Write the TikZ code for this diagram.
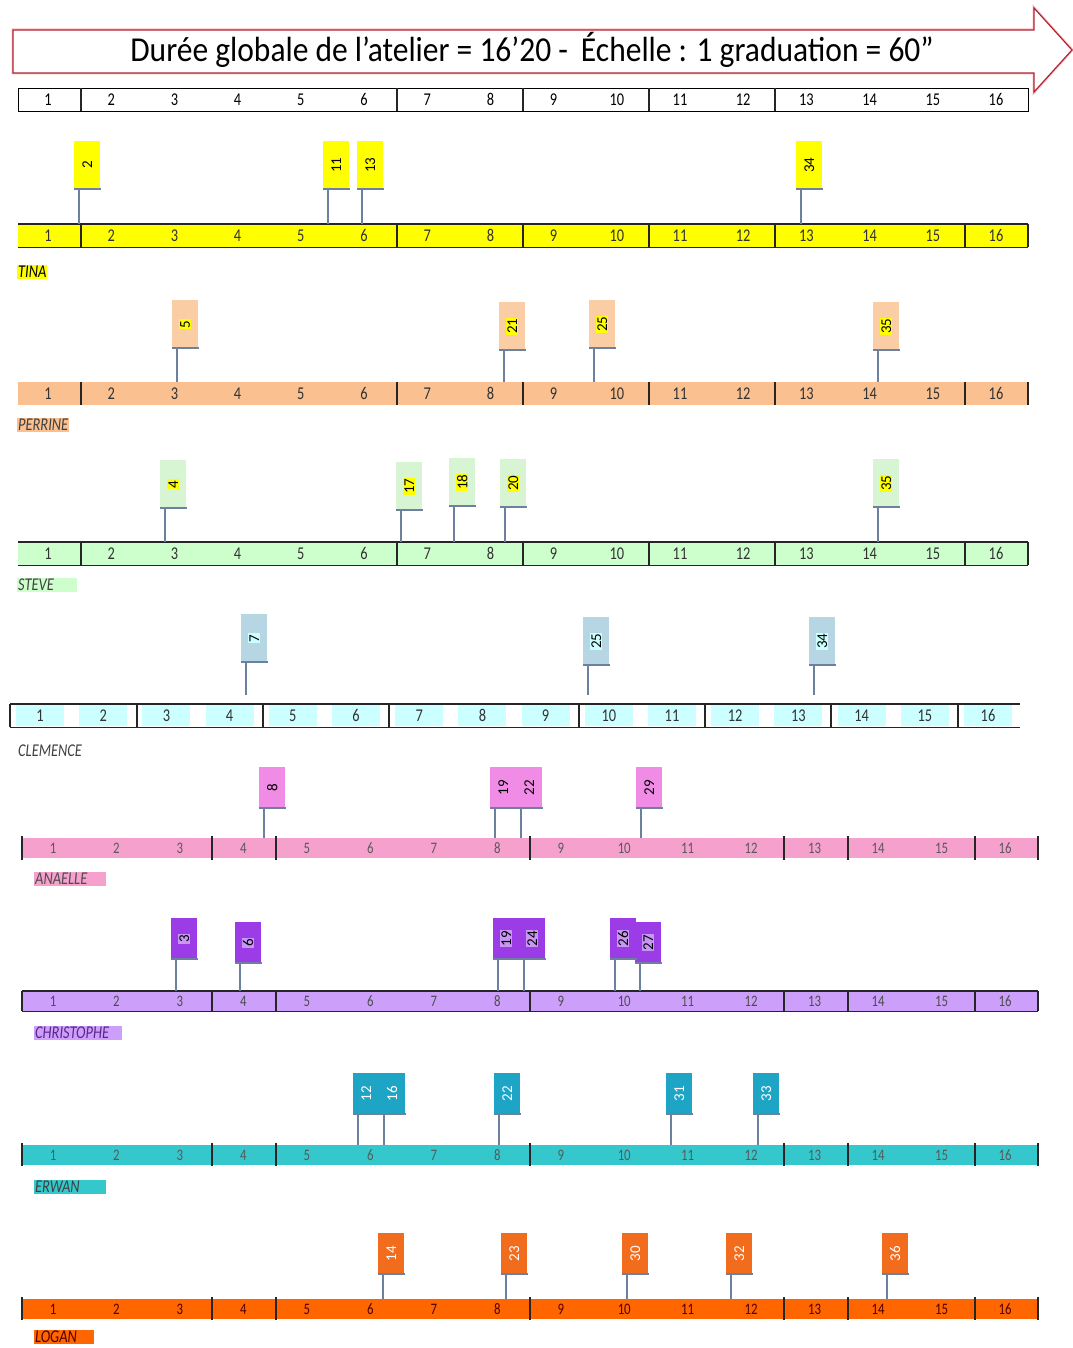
\documentclass[tikz,border=0pt]{standalone}
\usepackage{fontspec}
\usepackage{graphicx}
\setmainfont{Carlito}
\newfontfamily\narrowfont[FakeStretch=0.8, Ligatures=TeX]{Carlito}
\newfontfamily\titlefont[FakeStretch=0.9, Ligatures=TeX]{Carlito}
\usetikzlibrary{positioning}

\definecolor{tinaY}{RGB}{255,255,0}
\definecolor{perrineBar}{RGB}{250,192,144}
\definecolor{perrineFlag}{RGB}{250,205,165}
\definecolor{steveBar}{RGB}{204,255,204}
\definecolor{steveFlag}{RGB}{215,245,210}
\definecolor{clemCell}{RGB}{204,255,255}
\definecolor{clemFlag}{RGB}{183,214,228}
\definecolor{anaBar}{RGB}{245,160,205}
\definecolor{anaFlag}{RGB}{240,140,230}
\definecolor{chrBar}{RGB}{204,160,250}
\definecolor{chrFlag}{RGB}{155,60,230}
\definecolor{chrHl}{RGB}{200,150,245}
\definecolor{erwBar}{RGB}{52,200,204}
\definecolor{erwFlag}{RGB}{30,165,198}
\definecolor{logBar}{RGB}{255,102,0}
\definecolor{logFlag}{RGB}{242,108,30}
\definecolor{stemBlue}{RGB}{110,128,160}
\definecolor{arrowRed}{RGB}{175,35,55}
\definecolor{numGray}{RGB}{50,50,50}

\newcommand{\numfont}{\narrowfont\fontsize{18}{18}\selectfont}
\newcommand{\numBfont}{\narrowfont\fontsize{16}{16}\selectfont}
\newcommand{\labfont}{\narrowfont\itshape\fontsize{18}{18}\selectfont}
\newcommand{\flagfont}{\fontsize{15}{15}\selectfont}
\setlength{\fboxsep}{1pt}
\newcommand{\vnum}[1]{\rotatebox{90}{#1}}
\newcommand{\hlnum}[2]{\rotatebox{90}{\colorbox{#1}{#2}}}
% one graduated line: style, name, first x, step, y
\newcommand{\scaleline}[5][]{%
  \foreach \i in {1,...,16}
    \node[#1] (#2-\i) at ({#3+(\i-1)*#4},#5) {\i};}

\begin{document}
\begin{tikzpicture}[x=1pt, y=-1pt,
  bar/.style={anchor=north west, inner sep=0pt, minimum width=1010pt, minimum height=23pt},
  barB/.style={anchor=north west, inner sep=0pt, minimum width=1016pt, minimum height=20pt},
  num/.style={font=\numfont, inner sep=0pt, text=numGray},
  numB/.style={font=\numBfont, inner sep=0pt, text=numGray},
  rim/.style={line width=1.2pt, black!85},
  div/.style={line width=1.4pt, black!85},
  flag/.style={fill=#1, anchor=north west, inner sep=0pt, minimum width=26pt, font=\flagfont},
  flagA/.style={flag=#1, minimum height=48pt},
  flagB/.style={flag=#1, minimum height=41pt},
  stem/.style={line width=1.3pt, stemBlue},
  foot/.style={line width=2pt, stemBlue},
  lab/.style={anchor=west, inner sep=1pt, font=\labfont, align=left}]
\useasboundingbox (0,0) rectangle (1072,1348);

% title arrow
\draw[line width=3pt, red!25] (13,30) -- (1034,30) -- (1034,8) -- (1072,50) -- (1034,92) -- (1034,73) -- (13,73) -- cycle;
\draw[line width=1.2pt, arrowRed, fill=white] (13,30) -- (1034,30) -- (1034,8) -- (1072,50) -- (1034,92) -- (1034,73) -- (13,73) -- cycle;
\node[font=\titlefont\fontsize{35}{35}\selectfont] (title) at (532,50) {Durée globale de l'atelier = 16'20 -\, Échelle : 1 graduation = 60''};

% general scale
\node[bar, draw=black, line width=1.2pt, fill=white] (scale) at (18,88) {};
\scaleline[num, text=black]{sc}{48}{63.2}{99.5}
\foreach \x in {81,397,523,649,775} \draw[div] (\x,88) -- (\x,111);

% TINA
\node[bar, fill=tinaY] (tina) at (18,224) {};
\scaleline[num]{ti}{48}{63.2}{235.5}
\draw[rim] (tina.north west) -- (tina.north east) (tina.south west) -- (tina.south east);
\foreach \x in {81,397,523,649,775,965,1028} \draw[div] (\x,224) -- (\x,247);
\node[lab, fill=tinaY] (tinalab) at (17,272) {TINA};
\node[flagA=tinaY] (t2) at (74,141) {\vnum{2}};
\node[flagA=tinaY] (t11) at (323,141) {\vnum{11}};
\node[flagA=tinaY] (t13) at (357,141) {\vnum{13}};
\node[flagA=tinaY] (t34) at (796,141) {\vnum{34}};
\foreach \f in {t2,t11,t13,t34}{
  \draw[foot] (\f.south west) -- ([xshift=1pt]\f.south east);
  \draw[stem] ([xshift=5pt]\f.south west) -- ([xshift=5pt]\f.south west |- tina.north);}

% PERRINE
\node[bar, fill=perrineBar] (perrine) at (18,382) {};
\scaleline[num]{pe}{48}{63.2}{393.5}
\foreach \x in {81,397,523,649,775,965,1028} \draw[div] (\x,382) -- (\x,405);
\node[lab, fill=perrineBar, text=black!75] (perrinelab) at (17,425) {PERRINE};
\node[flagA=perrineFlag] (p5) at (172,300) {\hlnum{tinaY}{5}};
\node[flagA=perrineFlag] (p21) at (499,302) {\hlnum{tinaY}{21}};
\node[flagA=perrineFlag] (p25) at (589,300) {\hlnum{tinaY}{25}};
\node[flagA=perrineFlag] (p35) at (873,302) {\hlnum{tinaY}{35}};
\foreach \f in {p5,p21,p25,p35}{
  \draw[foot] (\f.south west) -- ([xshift=1pt]\f.south east);
  \draw[stem] ([xshift=5pt]\f.south west) -- ([xshift=5pt]\f.south west |- perrine.north);}

% STEVE
\node[bar, fill=steveBar] (steve) at (18,542) {};
\scaleline[num]{st}{48}{63.2}{553.5}
\draw[rim] (steve.north west) -- (steve.north east) (steve.south west) -- (steve.south east);
\foreach \x in {81,397,523,649,775,965,1028} \draw[div] (\x,542) -- (\x,565);
\node[lab, fill=steveBar, text=black!75, text width=58pt] (stevelab) at (17,585) {STEVE};
\node[flagA=steveFlag] (s4) at (160,460) {\hlnum{tinaY}{4}};
\node[flagA=steveFlag] (s17) at (396,462) {\hlnum{tinaY}{17}};
\node[flagA=steveFlag] (s18) at (449,458) {\hlnum{tinaY}{18}};
\node[flagA=steveFlag] (s20) at (500,459) {\hlnum{tinaY}{20}};
\node[flagA=steveFlag] (s35) at (873,459) {\hlnum{tinaY}{35}};
\foreach \f in {s4,s17,s18,s20,s35}{
  \draw[foot] (\f.south west) -- ([xshift=1pt]\f.south east);
  \draw[stem] ([xshift=5pt]\f.south west) -- ([xshift=5pt]\f.south west |- steve.north);}

% CLEMENCE
\node[bar] (clemence) at (10,704) {};
\scaleline[num, fill=clemCell, minimum width=48pt, minimum height=21pt]{cl}{40}{63.2}{715.5}
\draw[rim] (clemence.north west) -- (clemence.north east) (clemence.south west) -- (clemence.south east);
\foreach \x in {10,137,263,389,579,705,831,958} \draw[div] (\x,704) -- (\x,727);
\node[lab, text=black!75] (clemlab) at (17,751) {CLEMENCE};
\node[flagA=clemFlag] (c7) at (241,614) {\hlnum{clemCell}{7}};
\node[flagA=clemFlag] (c25) at (583,617) {\hlnum{clemCell}{25}};
\node[flagA=clemFlag] (c34) at (809,617) {\hlnum{clemCell}{34}};
\foreach \f in {c7,c25,c34}{
  \draw[foot] (\f.south west) -- ([xshift=1pt]\f.south east);
  \draw[stem, shorten >=9pt] ([xshift=5pt]\f.south west) -- ([xshift=5pt]\f.south west |- clemence.north);}

% ANAELLE
\node[barB, fill=anaBar] (anaelle) at (22,838) {};
\scaleline[numB, text=black!65]{an}{53}{63.47}{848}
\foreach \x in {22,212,276,530,784,848,975,1038} \draw[div] (\x,836) -- (\x,860);
\node[lab, fill=anaBar, text=black!70, text width=70pt] (analab) at (34,879) {ANAELLE};
\node[flagB=anaFlag] (a8) at (259,767) {\vnum{8}};
\node[flagB=anaFlag] (a19) at (490,767) {\vnum{19}};
\node[flagB=anaFlag] (a22) at (516,767) {\vnum{22}};
\node[flagB=anaFlag] (a29) at (636,767) {\vnum{29}};
\foreach \f in {a8,a19,a22,a29}{
  \draw[foot] (\f.south west) -- ([xshift=1pt]\f.south east);
  \draw[stem] ([xshift=5pt]\f.south west) -- ([xshift=5pt]\f.south west |- anaelle.north);}

% CHRISTOPHE
\node[barB, fill=chrBar] (christophe) at (22,991) {};
\scaleline[numB, text=black!70]{ch}{53}{63.47}{1001}
\draw[rim] (christophe.north west) -- (christophe.north east) (christophe.south west) -- (christophe.south east);
\foreach \x in {22,212,276,530,784,848,975,1038} \draw[div] (\x,991) -- (\x,1011);
\node[lab, fill=chrBar, text=chrFlag!60!black, text width=86pt] (chrlab) at (34,1033) {CHRISTOPHE};
\node[flagB=chrFlag] (h3) at (171,918) {\hlnum{chrHl}{3}};
\node[flagB=chrFlag] (h6) at (235,922) {\hlnum{chrHl}{6}};
\node[flagB=chrFlag] (h19) at (493,918) {\hlnum{chrHl}{19}};
\node[flagB=chrFlag] (h24) at (519,918) {\hlnum{chrHl}{24}};
\node[flagB=chrFlag] (h26) at (610,918) {\hlnum{chrHl}{26}};
\node[flagB=chrFlag] (h27) at (635,922) {\hlnum{chrHl}{27}};
\foreach \f in {h3,h6,h19,h24,h26,h27}{
  \draw[foot] (\f.south west) -- ([xshift=1pt]\f.south east);
  \draw[stem] ([xshift=5pt]\f.south west) -- ([xshift=5pt]\f.south west |- christophe.north);}

% ERWAN
\node[barB, fill=erwBar] (erwan) at (22,1145) {};
\scaleline[numB, text=black!65]{er}{53}{63.47}{1155}
\foreach \x in {22,212,276,530,784,848,975,1038} \draw[div] (\x,1143) -- (\x,1166);
\node[lab, fill=erwBar, text=black!75, text width=70pt] (erwlab) at (34,1187) {ERWAN};
\node[flagB=erwFlag, text=white] (e12) at (353,1073) {\vnum{12}};
\node[flagB=erwFlag, text=white] (e16) at (379,1073) {\vnum{16}};
\node[flagB=erwFlag, text=white] (e22) at (494,1073) {\vnum{22}};
\node[flagB=erwFlag, text=white] (e31) at (666,1073) {\vnum{31}};
\node[flagB=erwFlag, text=white] (e33) at (753,1073) {\vnum{33}};
\foreach \f in {e12,e16,e22,e31,e33}{
  \draw[foot] (\f.south west) -- ([xshift=1pt]\f.south east);
  \draw[stem] ([xshift=5pt]\f.south west) -- ([xshift=5pt]\f.south west |- erwan.north);}

% LOGAN
\node[barB, fill=logBar] (logan) at (22,1299) {};
\scaleline[numB, text=black!70!red]{lo}{53}{63.47}{1309}
\foreach \x in {22,212,276,530,784,848,975,1038} \draw[div] (\x,1297) -- (\x,1320);
\node[lab, fill=logBar, text=black!70!red, text width=58pt] (loglab) at (34,1337) {LOGAN};
\node[flagB=logFlag, text=white] (l14) at (378,1233) {\vnum{14}};
\node[flagB=logFlag, text=white] (l23) at (501,1233) {\vnum{23}};
\node[flagB=logFlag, text=white] (l30) at (622,1233) {\vnum{30}};
\node[flagB=logFlag, text=white] (l32) at (726,1233) {\vnum{32}};
\node[flagB=logFlag, text=white] (l36) at (882,1233) {\vnum{36}};
\foreach \f in {l14,l23,l30,l32,l36}{
  \draw[foot] (\f.south west) -- ([xshift=1pt]\f.south east);
  \draw[stem] ([xshift=5pt]\f.south west) -- ([xshift=5pt]\f.south west |- logan.north);}
\end{tikzpicture}
\end{document}
